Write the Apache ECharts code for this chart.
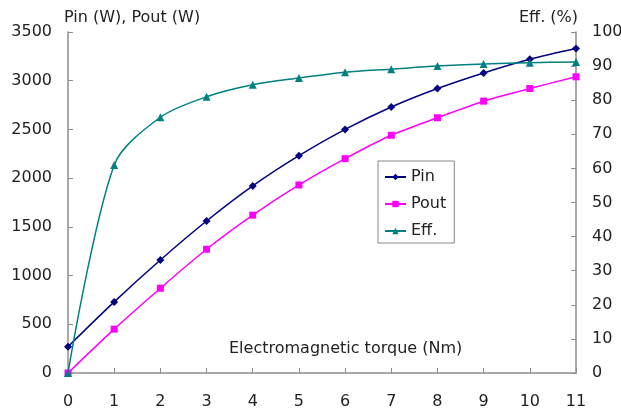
<!DOCTYPE html>
<html>
<head>
<meta charset="utf-8">
<script src="https://cdn.jsdelivr.net/npm/echarts@6/dist/echarts.min.js"></script>
<style>
  html, body { margin: 0; padding: 0; background: #fff; }
  #chart { width: 621px; height: 414px; }
</style>
</head>
<body>
<div id="chart"></div>
<script>
// torque (Nm) on the x axis
const torque = [0, 1, 2, 3, 4, 5, 6, 7, 8, 9, 10, 11]
// power in W
const pin = [270, 730, 1160, 1560, 1920, 2230, 2500, 2730, 2920, 3080, 3220, 3330]
const pout = [0, 450, 870, 1270, 1620, 1930, 2200, 2440, 2620, 2790, 2920, 3040]
// efficiency in %
const eff = [0, 61.0, 75.0, 81.0, 84.5, 86.5, 88.2, 89.1, 90.0, 90.6, 91.0, 91.2]

const pairs = arr => torque.map((t, i) => [t, arr[i]])

const font = 'DejaVu Sans, sans-serif'
const axisGrey = '#8c8c8c'
const textCol = '#222'

const myChart = echarts.init(document.getElementById('chart'))

const option = {
  animation: false,
  backgroundColor: '#fff',
  textStyle: { fontFamily: font },
  title: {
    text: 'Electromagnetic torque (Nm)',
    left: 229,
    top: 341,
    padding: 0,
    textStyle: { fontSize: 16, fontWeight: 'normal', color: textCol, fontFamily: font }
  },
  grid: { left: 68, right: 45, top: 32, bottom: 41, outerBoundsMode: 'none' },
  legend: {
    orient: 'vertical',
    left: 378,
    top: 161,
    backgroundColor: '#fff',
    borderColor: '#888',
    borderWidth: 1,
    padding: [8, 8, 4, 6],
    itemGap: 11,
    itemWidth: 21,
    itemHeight: 8,
    textStyle: { fontSize: 16, color: textCol, fontFamily: font },
    data: ['Pin', 'Pout', 'Eff.']
  },
  xAxis: {
    type: 'value',
    min: 0,
    max: 11,
    interval: 1,
    splitLine: { show: false },
    axisLine: { lineStyle: { color: axisGrey, width: 1.5 } },
    axisTick: { inside: true, length: 5, lineStyle: { color: axisGrey } },
    axisLabel: { fontSize: 16, color: textCol, margin: 21, fontFamily: font }
  },
  yAxis: [
    {
      type: 'value',
      min: 0,
      max: 3500,
      interval: 500,
      name: 'Pin (W), Pout (W)',
      nameLocation: 'end',
      nameGap: 6,
      nameTextStyle: { fontSize: 16, color: textCol, align: 'left', padding: [0, 0, 0, -4], fontFamily: font },
      splitLine: { show: false },
      axisLine: { show: true, lineStyle: { color: axisGrey, width: 1.5 } },
      axisTick: { show: true, inside: true, length: 5, lineStyle: { color: axisGrey } },
      axisLabel: { fontSize: 16, color: textCol, margin: 16, fontFamily: font, formatter: v => String(v) }
    },
    {
      type: 'value',
      min: 0,
      max: 100,
      interval: 10,
      position: 'right',
      name: 'Eff. (%)',
      nameLocation: 'end',
      nameGap: 6,
      nameTextStyle: { fontSize: 16, color: textCol, align: 'right', padding: [0, -2, 0, 0], fontFamily: font },
      splitLine: { show: false },
      axisLine: { show: true, lineStyle: { color: axisGrey, width: 1.5 } },
      axisTick: { show: true, inside: true, length: 5, lineStyle: { color: axisGrey } },
      axisLabel: { fontSize: 16, color: textCol, margin: 16, fontFamily: font }
    }
  ],
  series: [
    {
      name: 'Pin',
      type: 'line',
      smooth: 0.3,
      symbol: 'diamond',
      symbolSize: 8,
      color: '#000080',
      lineStyle: { width: 1.5 },
      data: pairs(pin)
    },
    {
      name: 'Pout',
      type: 'line',
      smooth: 0.3,
      symbol: 'rect',
      symbolSize: 7,
      color: '#ff00ff',
      lineStyle: { width: 1.5 },
      data: pairs(pout)
    },
    {
      name: 'Eff.',
      type: 'line',
      yAxisIndex: 1,
      smooth: 0.3,
      symbol: 'triangle',
      symbolSize: 8,
      color: '#008080',
      lineStyle: { width: 1.5 },
      data: pairs(eff)
    }
  ]
}

myChart.setOption(option)
</script>
</body>
</html>
